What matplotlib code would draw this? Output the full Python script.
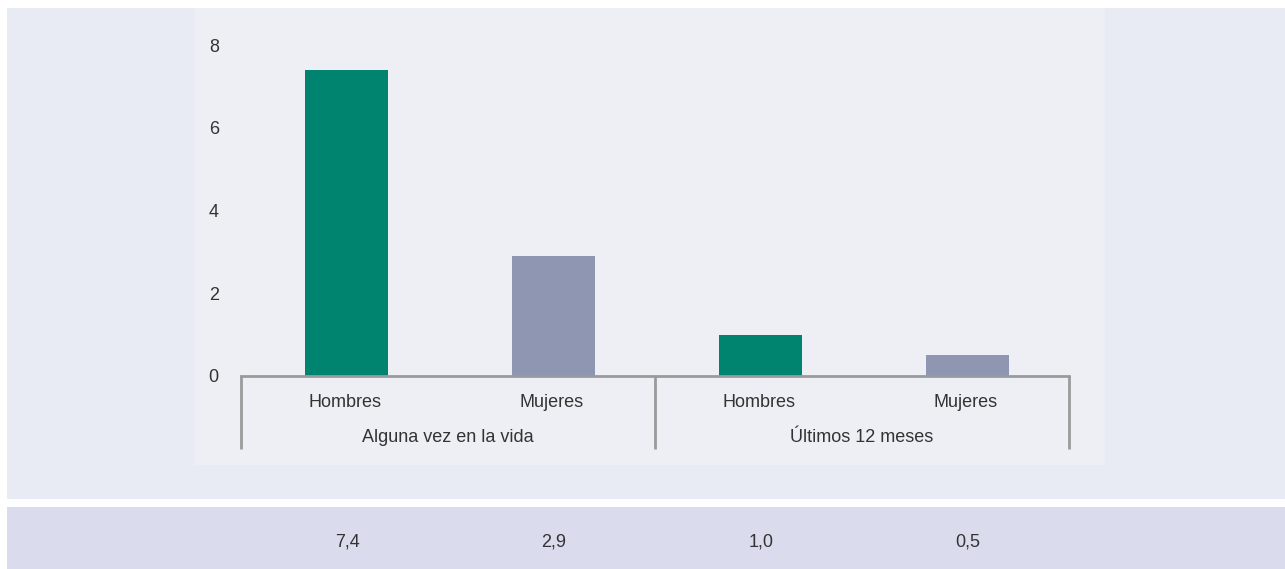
import matplotlib
matplotlib.use("Agg")
import matplotlib.pyplot as plt
from matplotlib.patches import Rectangle
import matplotlib.transforms as mtransforms

# data
categories = ["Hombres", "Mujeres", "Hombres", "Mujeres"]
groups = ["Alguna vez en la vida", "Últimos 12 meses"]
values = [7.4, 2.9, 1.0, 0.5]
value_labels = ["7,4", "2,9", "1,0", "0,5"]
y_ticks = [0, 2, 4, 6, 8]

bar_colors = ["#00846f", "#8e96b1", "#00846f", "#8e96b1"]
text_color = "#333333"

W, H = 1285, 569
fig = plt.figure(figsize=(W / 100, H / 100), dpi=100)
fig.patch.set_facecolor("white")


def px_rect(x0, y0, x1, y1, color):
    # rectangle given in pixel coords from top-left
    fig.patches.append(Rectangle((x0 / W, 1 - y1 / H), (x1 - x0) / W, (y1 - y0) / H,
                                 transform=fig.transFigure, facecolor=color,
                                 edgecolor="none", zorder=-10))


# background panels
px_rect(7, 8, W, 499, "#e8ebf3")
px_rect(195, 8, 1105, 465, "#eeeff4")
px_rect(7, 507, W, H, "#dadced")

# axes placed over the inner panel
ax_left, ax_right, ax_bottom, ax_top = 241, 1069, 376, 45
ax = fig.add_axes([ax_left / W, 1 - ax_bottom / H, (ax_right - ax_left) / W, (ax_bottom - ax_top) / H])
ax.set_facecolor("none")

x = list(range(len(values)))
ax.bar([xi + 0.008 for xi in x], values, width=0.4, color=bar_colors, zorder=2)
ax.set_xlim(-0.5, len(values) - 0.5)
ax.set_ylim(0, 8)

for s in ["top", "right", "left"]:
    ax.spines[s].set_visible(False)
ax.spines["bottom"].set_color("#9a9a9a")
ax.spines["bottom"].set_linewidth(2)

ax.set_yticks(y_ticks)
ax.set_yticklabels([str(t) for t in y_ticks], fontsize=13, color=text_color, family="Liberation Sans")
ax.tick_params(axis="y", length=0, pad=16)

ax.set_xticks(x)
ax.set_xticklabels(categories, fontsize=13, color=text_color, family="Liberation Sans")
ax.tick_params(axis="x", length=0, pad=13)

# group labels and dividers
trans = mtransforms.blended_transform_factory(ax.transData, ax.transAxes)
for i, g in enumerate(groups):
    ax.text(i * 2 + 0.5, (ax_bottom - 437) / (ax_bottom - ax_top), g, transform=trans,
            ha="center", va="center", fontsize=13, color=text_color, family="Liberation Sans")
for xd in [-0.5, 1.5, 3.5]:
    ax.plot([xd, xd], [0, (ax_bottom - 449) / (ax_bottom - ax_top)], transform=trans,
            color="#9a9a9a", lw=2, clip_on=False, solid_capstyle="butt")

# value row below the chart
for xi, lab in zip(x, value_labels):
    xp = ax.transData.transform((xi, 0))[0]
    fig.text(xp / W + 0.002, 1 - 542 / H, lab, ha="center", va="center", fontsize=13,
             color=text_color, family=["Liberation Sans Narrow", "Liberation Sans"])

fig.savefig("out.png", dpi=100, facecolor=fig.get_facecolor())
